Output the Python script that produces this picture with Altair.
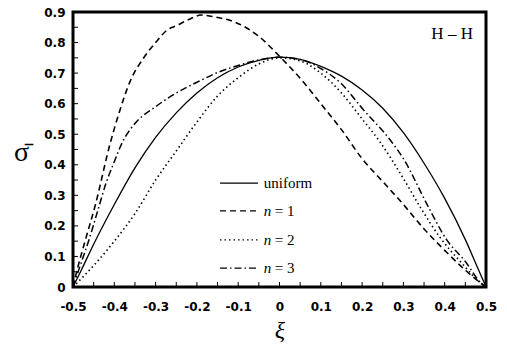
import altair as alt
import pandas as pd

# Stress profiles sigma-bar along the normalised coordinate xi
xi_uniform = [-0.5, -0.48, -0.45, -0.4, -0.35, -0.3, -0.25, -0.2, -0.15, -0.1, -0.05, 0.0,
              0.05, 0.1, 0.15, 0.2, 0.25, 0.3, 0.35, 0.4, 0.45, 0.48, 0.5]
sigma_uniform = [0.0, 0.055, 0.14, 0.27, 0.39, 0.49, 0.57, 0.635, 0.685, 0.72, 0.742, 0.752,
                 0.745, 0.722, 0.69, 0.645, 0.585, 0.505, 0.405, 0.29, 0.155, 0.062, 0.0]

xi_n1 = [-0.5, -0.49, -0.47, -0.447, -0.41, -0.39, -0.362, -0.33, -0.3, -0.27, -0.25, -0.22, -0.19,
         -0.15, -0.11, -0.05, 0.0, 0.05, 0.1, 0.15, 0.2, 0.25, 0.3, 0.35, 0.4, 0.45, 0.49, 0.5]
sigma_n1 = [0.0, 0.056, 0.154, 0.263, 0.47, 0.563, 0.672, 0.748, 0.8, 0.843, 0.855, 0.875, 0.89,
            0.882, 0.868, 0.82, 0.755, 0.683, 0.6, 0.515, 0.42, 0.345, 0.27, 0.19, 0.12, 0.055, 0.01, 0.0]

xi_n2 = [-0.5, -0.45, -0.4, -0.35, -0.3, -0.25, -0.2, -0.15, -0.1, -0.05, 0.0,
         0.05, 0.1, 0.15, 0.2, 0.24, 0.3, 0.34, 0.39, 0.44, 0.49, 0.5]
sigma_n2 = [0.0, 0.07, 0.15, 0.24, 0.35, 0.445, 0.54, 0.625, 0.685, 0.73, 0.75,
            0.74, 0.7, 0.635, 0.55, 0.481, 0.355, 0.263, 0.16, 0.08, 0.01, 0.0]

xi_n3 = [-0.5, -0.48, -0.46, -0.44, -0.42, -0.4, -0.38, -0.35, -0.3, -0.25, -0.2, -0.15,
         -0.1, -0.05, 0.0, 0.05, 0.1, 0.15, 0.2, 0.268, 0.3, 0.36, 0.405, 0.449, 0.49, 0.5]
sigma_n3 = [0.0, 0.08, 0.16, 0.25, 0.34, 0.41, 0.475, 0.535, 0.59, 0.635, 0.67, 0.702,
            0.725, 0.743, 0.752, 0.745, 0.715, 0.665, 0.585, 0.481, 0.42, 0.263, 0.154, 0.085, 0.01, 0.0]

tick_xi = [-0.5, -0.45, -0.4, -0.35, -0.3, -0.25, -0.2, -0.15, -0.1, -0.05, 0.0,
           0.05, 0.1, 0.15, 0.2, 0.25, 0.3, 0.35, 0.4, 0.45, 0.5]
tick_sigma = [0.0, 0.05, 0.1, 0.15, 0.2, 0.25, 0.3, 0.35, 0.4, 0.45,
              0.5, 0.55, 0.6, 0.65, 0.7, 0.75, 0.8, 0.85, 0.9]
label_xi = [-0.5, -0.4, -0.3, -0.2, -0.1, 0.0, 0.1, 0.2, 0.3, 0.4, 0.5]
label_sigma = [0.0, 0.1, 0.2, 0.3, 0.4, 0.5, 0.6, 0.7, 0.8, 0.9]

legend_labels = ["uniform", "n", "n", "n"]
legend_rhs = ["", "= 1", "= 2", "= 3"]

W, H = 413, 275
SERIF = "Liberation Serif"
SANS = "DejaVu Sans"

xscale = alt.Scale(domain=[-0.5, 0.5], nice=False, zero=False)
yscale = alt.Scale(domain=[0, 0.9], nice=False, zero=False)

label_expr = "datum.value == 0 ? '0' : replace(format(datum.value, '.1f'), '\u2212', '-')"

x_axis = alt.Axis(values=label_xi, labelExpr=label_expr, ticks=False, domain=False, grid=False,
                  labelFont=SANS, labelFontWeight="bold", labelFontSize=12, labelColor="black",
                  labelOverlap=False, labelFlush=False, labelBound=False,
                  labelPadding=14, title="ξ", titleFont=SERIF, titleFontStyle="italic",
                  titleFontWeight="normal", titleFontSize=24, titleColor="black", titlePadding=6)
y_axis = alt.Axis(values=label_sigma, labelExpr=label_expr, ticks=False, domain=False, grid=False,
                  labelFont=SANS, labelFontWeight="bold", labelFontSize=12, labelColor="black",
                  labelOverlap=False, labelFlush=False, labelBound=False,
                  labelPadding=8, title="σ̄", titleFont=SERIF, titleFontWeight="normal",
                  titleFontSize=28, titleColor="black", titleAngle=0, titleX=-52, titleY=140,
                  titleAlign="center", titleBaseline="middle")


def curve(xs, ys, dash, width):
    df = pd.DataFrame({"xi": xs, "sigma": ys})
    mark_args = dict(color="black", strokeWidth=width, interpolate="monotone")
    if dash:
        mark_args["strokeDash"] = dash
    return alt.Chart(df).mark_line(**mark_args).encode(
        x=alt.X("xi:Q", scale=xscale, axis=x_axis),
        y=alt.Y("sigma:Q", scale=yscale, axis=y_axis),
    )


dash_uniform = None
dash_n1 = [6, 4]
dash_n2 = [1.5, 3]
dash_n3 = [7, 3, 1.5, 3]

lines = [
    curve(xi_uniform, sigma_uniform, dash_uniform, 1.3),
    curve(xi_n1, sigma_n1, dash_n1, 1.6),
    curve(xi_n2, sigma_n2, dash_n2, 1.6),
    curve(xi_n3, sigma_n3, dash_n3, 1.5),
]

# inward tick marks on the bottom and left edges
bottom_ticks = alt.Chart(pd.DataFrame({"t": tick_xi})).mark_rule(color="black", strokeWidth=1).encode(
    x=alt.X("t:Q", scale=xscale, axis=x_axis), y=alt.value(H), y2=alt.value(H - 5))
left_ticks = alt.Chart(pd.DataFrame({"t": tick_sigma})).mark_rule(color="black", strokeWidth=1).encode(
    y=alt.Y("t:Q", scale=yscale, axis=y_axis), x=alt.value(0), x2=alt.value(5))

# legend drawn inside the plot
legend_rows = [0.34, 0.249, 0.154, 0.062]
legend_dashes = [dash_uniform, dash_n1, dash_n2, dash_n3]
legend_layers = []
base = alt.Chart(pd.DataFrame({"k": [0]}))
for i, row_y in enumerate(legend_rows):
    args = dict(color="black", strokeWidth=1.3)
    if legend_dashes[i]:
        args["strokeDash"] = legend_dashes[i]
    legend_layers.append(base.mark_rule(**args).encode(
        x=alt.datum(-0.144, scale=xscale, axis=x_axis), x2=alt.datum(-0.052),
        y=alt.datum(row_y, scale=yscale, axis=y_axis)))
    legend_layers.append(base.mark_text(
        align="left", baseline="middle", font=SERIF, fontSize=15, color="black",
        fontStyle="normal" if i == 0 else "italic").encode(
        x=alt.datum(-0.038, scale=xscale, axis=x_axis), y=alt.datum(row_y, scale=yscale, axis=y_axis),
        text=alt.value(legend_labels[i])))
    if legend_rhs[i]:
        legend_layers.append(base.mark_text(
            align="left", baseline="middle", font=SERIF, fontSize=15, color="black", dx=11).encode(
            x=alt.datum(-0.038, scale=xscale, axis=x_axis), y=alt.datum(row_y, scale=yscale, axis=y_axis),
            text=alt.value(legend_rhs[i])))

tag = base.mark_text(align="center", baseline="middle", font=SERIF, fontSize=17, color="black").encode(
    x=alt.datum(0.418, scale=xscale, axis=x_axis), y=alt.datum(0.828, scale=yscale, axis=y_axis),
    text=alt.value("H – H"))

chart = alt.layer(*lines, bottom_ticks, left_ticks, *legend_layers, tag).properties(
    width=W, height=H,
    autosize=alt.AutoSizeParams(type="none"),
    padding={"left": 73, "top": 12, "right": 21, "bottom": 67},
    background="white",
).configure_view(stroke="black", strokeWidth=3)

chart.save("out.html", embed_options={"renderer": "svg", "actions": False})
